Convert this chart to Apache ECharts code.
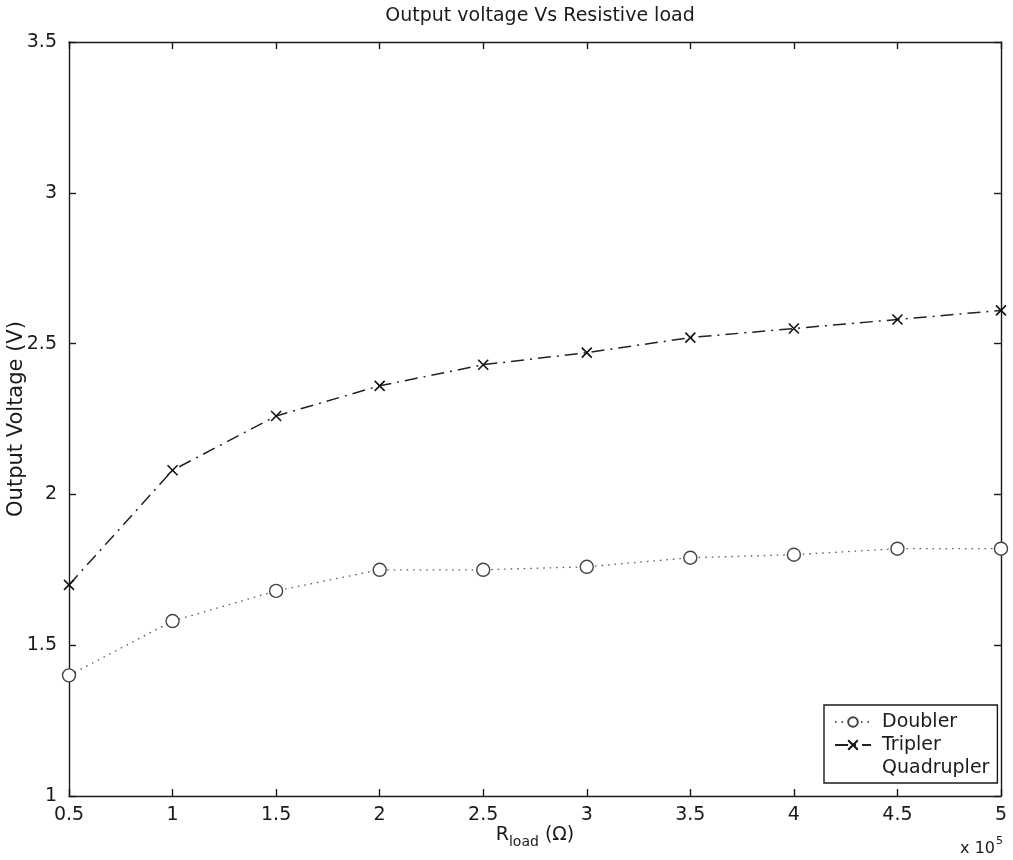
<!DOCTYPE html>
<html>
<head>
<meta charset="utf-8">
<script src="https://cdn.jsdelivr.net/npm/echarts@6/dist/echarts.min.js"></script>
<style>
  html, body { margin: 0; padding: 0; background: #fff; }
  #chart { width: 1013px; height: 860px; }
</style>
</head>
<body>
<div id="chart"></div>
<script>
// Load resistance in units of 1e5 ohm
const rLoad = [0.5, 1, 1.5, 2, 2.5, 3, 3.5, 4, 4.5, 5];
// Measured output voltage (V)
const doubler = [1.40, 1.58, 1.68, 1.75, 1.75, 1.76, 1.79, 1.80, 1.82, 1.82];
const tripler = [1.70, 2.08, 2.26, 2.36, 2.43, 2.47, 2.52, 2.55, 2.58, 2.61];
const quadrupler = [];

const xTicks = { min: 0.5, max: 5, step: 0.5 };
const yTicks = { min: 1, max: 3.5, step: 0.5 };

const FONT = 'DejaVu Sans';
const INK = '#1a1a1a';

function pairs(xs, ys) {
  return ys.map((v, i) => [xs[i], v]);
}

const boxAxis = (extra) => Object.assign({
  type: 'value',
  splitLine: { show: false },
  axisLine: { show: true, onZero: false, lineStyle: { color: INK, width: 1.4 } },
  axisTick: { show: true, inside: true, length: 7, lineStyle: { color: INK, width: 1.4 } },
  axisLabel: { show: false }
}, extra);

const chart = echarts.init(document.getElementById('chart'), null, { renderer: 'canvas' });

chart.setOption({
  backgroundColor: '#ffffff',
  animation: false,
  title: {
    text: 'Output voltage Vs Resistive load',
    left: 535,
    textAlign: 'center',
    top: 2,
    textStyle: { fontFamily: FONT, fontSize: 19, fontWeight: 'normal', color: INK }
  },
  grid: { left: 69, right: 12, top: 42, bottom: 64, containLabel: false, outerBoundsMode: 'none' },
  xAxis: [
    boxAxis({
      min: xTicks.min, max: xTicks.max, interval: xTicks.step,
      position: 'bottom',
      axisLabel: { show: true, margin: 10, fontFamily: FONT, fontSize: 19, color: INK },
      name: '{r|R}{s|load}{r| (Ω)}',
      nameLocation: 'middle',
      nameGap: 26,
      nameMoveOverlap: false,
      nameTextStyle: {
        fontFamily: FONT, color: INK, verticalAlign: 'top',
        rich: {
          r: { fontFamily: FONT, fontSize: 19, color: INK },
          s: { fontFamily: FONT, fontSize: 14, color: INK, padding: [13, 0, 0, 0] }
        }
      }
    }),
    boxAxis({ min: xTicks.min, max: xTicks.max, interval: xTicks.step, position: 'top' })
  ],
  yAxis: [
    boxAxis({
      min: yTicks.min, max: yTicks.max, interval: yTicks.step,
      position: 'left',
      axisLabel: { show: true, margin: 12, fontFamily: FONT, fontSize: 19, color: INK },
      name: 'Output Voltage (V)',
      nameLocation: 'middle',
      nameGap: 42,
      nameMoveOverlap: false,
      nameTextStyle: { fontFamily: FONT, fontSize: 21, color: INK }
    }),
    boxAxis({ min: yTicks.min, max: yTicks.max, interval: yTicks.step, position: 'right' })
  ],
  legend: {
    orient: 'vertical',
    left: 824,
    top: 705,
    padding: [7, 8, 5, 10],
    itemGap: 3,
    itemWidth: 36,
    itemHeight: 12,
    backgroundColor: '#ffffff',
    borderColor: INK,
    borderWidth: 1.4,
    borderRadius: 0,
    textStyle: { fontFamily: FONT, fontSize: 19, color: INK, lineHeight: 20, padding: [0, 0, 0, 6] },
    data: ['Doubler', 'Tripler', 'Quadrupler']
  },
  series: [
    {
      name: 'Doubler',
      type: 'line',
      data: pairs(rLoad, doubler),
      symbol: 'circle',
      symbolSize: 13,
      itemStyle: { color: '#ffffff', borderColor: '#444', borderWidth: 1.4 },
      lineStyle: { color: '#555', width: 1.3, type: [1.5, 5] },
      emphasis: { disabled: true },
      z: 3
    },
    {
      name: 'Tripler',
      type: 'line',
      data: pairs(rLoad, tripler),
      symbol: 'path://M0,0L10,10M10,0L0,10',
      symbolSize: 10,
      itemStyle: { color: '#111', borderColor: '#111', borderWidth: 1.6 },
      lineStyle: { color: '#222', width: 1.5, type: [13, 6, 2, 6] },
      emphasis: { disabled: true },
      z: 3
    },
    {
      name: 'Quadrupler',
      type: 'line',
      data: pairs(rLoad, quadrupler),
      symbol: 'none',
      itemStyle: { color: 'rgba(0,0,0,0)' },
      lineStyle: { color: 'rgba(0,0,0,0)', width: 0 }
    }
  ],
  graphic: [
    {
      type: 'text',
      right: 10,
      top: 836,
      style: {
        text: '{a|x 10}{b|5}',
        fill: INK,
        rich: {
          a: { fontFamily: FONT, fontSize: 16, fill: INK, padding: [6, 0, 0, 0] },
          b: { fontFamily: FONT, fontSize: 11, fill: INK, padding: [0, 0, 8, 1] }
        }
      }
    }
  ]
});
</script>
</body>
</html>
